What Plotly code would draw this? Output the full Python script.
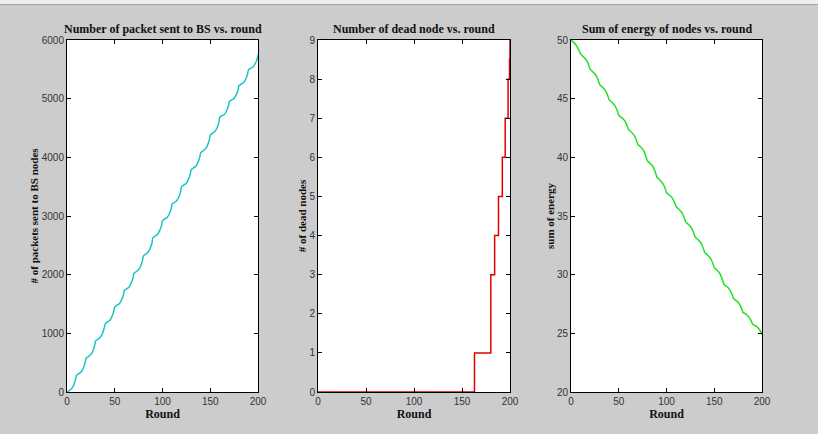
import plotly.graph_objects as go

# ---------------- data ----------------
rounds_pk = [0, 2, 5, 7, 9, 10, 12, 15, 17, 19, 20, 22, 25, 27, 29, 30, 32, 35, 37, 39,
             40, 42, 45, 47, 49, 50, 52, 55, 57, 59, 60, 62, 65, 67, 69, 70, 72, 75, 77, 79,
             80, 82, 85, 87, 89, 90, 92, 95, 97, 99, 100, 102, 105, 107, 109, 110, 112, 115, 117, 119,
             120, 122, 125, 127, 129, 130, 132, 135, 137, 139, 140, 142, 145, 147, 149, 150, 152, 155, 157, 159,
             160, 162, 165, 167, 169, 170, 172, 175, 177, 179, 180, 182, 185, 187, 189, 190, 192, 195, 197, 199, 200]
packets = [0, 20, 60, 120, 220, 285, 310, 345, 405, 500, 575, 600, 640, 700, 795,
           870, 895, 935, 990, 1090, 1165, 1190, 1225, 1285, 1375, 1450, 1475, 1510, 1565, 1650,
           1730, 1755, 1790, 1850, 1940, 2020, 2045, 2085, 2140, 2235, 2320, 2345, 2385, 2445, 2540,
           2630, 2655, 2690, 2750, 2840, 2920, 2945, 2980, 3035, 3120, 3200, 3225, 3265, 3320, 3415,
           3500, 3525, 3560, 3620, 3710, 3790, 3815, 3850, 3910, 4000, 4080, 4105, 4145, 4200, 4295,
           4380, 4405, 4445, 4500, 4595, 4680, 4705, 4735, 4790, 4870, 4950, 4975, 5005, 5060, 5140,
           5220, 5245, 5275, 5330, 5410, 5490, 5515, 5545, 5595, 5670, 5750]

rounds_dead = [0, 163, 180, 184, 188, 192, 195, 198, 199.5, 200]
dead_nodes = [0, 1, 3, 4, 5, 6, 7, 8, 8.5, 9]

energy = [50.0, 49.85, 49.6, 49.35, 49.0, 48.8, 48.65, 48.4, 48.15, 47.75,
          47.5, 47.35, 47.1, 46.85, 46.45, 46.2, 46.05, 45.8, 45.55, 45.15,
          44.9, 44.75, 44.5, 44.25, 43.85, 43.6, 43.45, 43.25, 43.0, 42.65,
          42.4, 42.25, 42.0, 41.75, 41.35, 41.1, 40.95, 40.7, 40.4, 39.95,
          39.7, 39.55, 39.3, 39.0, 38.55, 38.3, 38.15, 37.9, 37.65, 37.25,
          37.0, 36.85, 36.65, 36.4, 36.05, 35.8, 35.65, 35.4, 35.15, 34.75,
          34.5, 34.35, 34.1, 33.85, 33.45, 33.2, 33.05, 32.8, 32.55, 32.15,
          31.9, 31.75, 31.5, 31.25, 30.85, 30.6, 30.45, 30.2, 29.9, 29.45,
          29.2, 29.05, 28.85, 28.6, 28.25, 28.0, 27.85, 27.65, 27.4, 27.05,
          26.8, 26.7, 26.5, 26.3, 26.0, 25.8, 25.7, 25.55, 25.35, 25.1, 24.9]

titles = ["Number of packet sent to BS vs. round",
          "Number of dead node vs. round",
          "Sum of energy of nodes vs. round"]
ytitles = ["# of packets sent to BS nodes", "# of dead nodes", "sum of energy"]
xtitle = "Round"

# ---------------- figure ----------------
W, H = 818, 434
fig = go.Figure()
fig.add_trace(go.Scatter(x=rounds_pk, y=packets, mode="lines",
                         line=dict(color="#1cc4c4", width=1.5, shape="spline", smoothing=0.6),
                         xaxis="x", yaxis="y", showlegend=False))
fig.add_trace(go.Scatter(x=rounds_dead, y=dead_nodes, mode="lines",
                         line=dict(color="#e00000", width=1.5, shape="hv"),
                         xaxis="x2", yaxis="y2", showlegend=False))
fig.add_trace(go.Scatter(x=rounds_pk, y=energy, mode="lines",
                         line=dict(color="#22e022", width=1.5, shape="spline", smoothing=0.6),
                         xaxis="x3", yaxis="y3", showlegend=False))

xdoms = [(67 / W, 258 / W), (318 / W, 510 / W), (571 / W, 762 / W)]
ydom = (1 - 392 / H, 1 - 40 / H)
yranges = [(0, 6000), (0, 9), (20, 50)]
ydticks = [1000, 1, 5]

serif = "Liberation Serif, DejaVu Serif, serif"
sans = "Liberation Sans, Arial, sans-serif"

axcommon = dict(showgrid=False, zeroline=False, showline=True, linecolor="#000",
                linewidth=1, mirror="ticks", ticks="inside", ticklen=4, automargin=False,
                tickcolor="#000", tickfont=dict(family=sans, size=10, color="#333"))

layout = dict(width=W, height=H, margin=dict(l=0, r=0, t=0, b=0, autoexpand=False),
              paper_bgcolor="#cccccc", plot_bgcolor="#ffffff")
for i in range(3):
    sx = "" if i == 0 else str(i + 1)
    layout["xaxis" + sx] = dict(domain=list(xdoms[i]), range=[0, 200], dtick=50,
                                anchor="y" + sx,
                                title=dict(text="<b>" + xtitle + "</b>", standoff=0,
                                           font=dict(family=serif, size=12, color="#111")),
                                **axcommon)
    layout["yaxis" + sx] = dict(domain=list(ydom), range=list(yranges[i]), dtick=ydticks[i],
                                anchor="x" + sx,
                                title=dict(text="<b>" + ytitles[i] + "</b>", standoff=0,
                                           font=dict(family=serif, size=11, color="#111")),
                                **axcommon)
fig.update_layout(**layout)

for i in range(3):
    fig.add_annotation(text="<b>" + titles[i] + "</b>", xref="paper", yref="paper",
                       x=(xdoms[i][0] + xdoms[i][1]) / 2, y=1 - 29 / H,
                       xanchor="center", yanchor="middle", showarrow=False,
                       font=dict(family=serif, size=12, color="#111"))

# window top strip
fig.add_shape(type="rect", xref="paper", yref="paper", x0=0, x1=1, y0=1 - 4 / H, y1=1,
              fillcolor="#eeeeee", line=dict(width=0), layer="below")
fig.add_shape(type="line", xref="paper", yref="paper", x0=0, x1=1, y0=1 - 4.5 / H, y1=1 - 4.5 / H,
              line=dict(color="#a0a0a0", width=1))

fig.write_html("out.html")
